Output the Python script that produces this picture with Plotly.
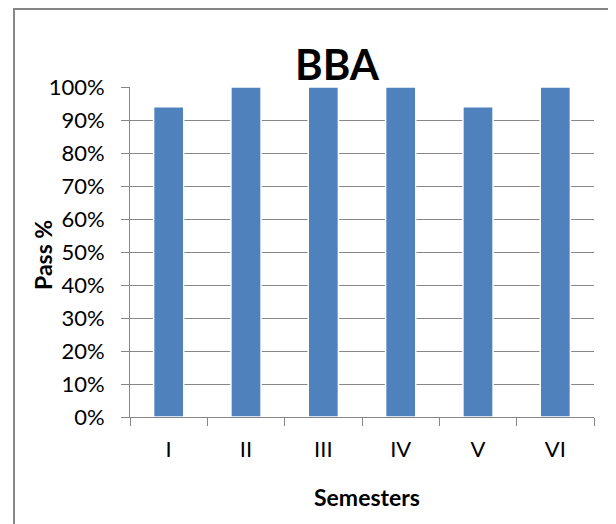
import plotly.graph_objects as go

semesters = ["I", "II", "III", "IV", "V", "VI"]
pass_pct = [0.94, 1.00, 1.00, 1.00, 0.94, 1.00]
y_ticks = [0, 0.1, 0.2, 0.3, 0.4, 0.5, 0.6, 0.7, 0.8, 0.9, 1.0]
y_tick_text = ["0%", "10%", "20%", "30%", "40%", "50%", "60%", "70%", "80%", "90%", "100%"]

# page body has an 8px margin, so figure is sized to fit the window
W, H = 608, 516
L, R, T, B = 122, 22, 79, 107
pw, ph = W - L - R, H - T - B
FONT = "Lato, Liberation Sans, sans-serif"
GRID = "#868686"

fig = go.Figure()
fig.add_trace(go.Bar(
    x=semesters, y=pass_pct,
    marker=dict(color="#4F81BD", line=dict(color="white", width=1.5)),
    width=0.39,
))

fig.update_layout(
    width=W, height=H,
    margin=dict(l=L, r=R, t=T, b=B, autoexpand=False),
    paper_bgcolor="white", plot_bgcolor="white",
    font=dict(family=FONT, color="black", size=22),
    showlegend=False,
    title=dict(text="<b>BBA</b>", x=329 / W, xanchor="center",
               y=1 - 57 / H, yanchor="middle", font=dict(size=42, color="black")),
    xaxis=dict(
        type="category", tickson="boundaries", ticks="outside", ticklen=8,
        tickcolor=GRID, tickwidth=1, showline=True, linecolor=GRID, linewidth=1,
        showgrid=False, tickfont=dict(size=22), ticklabelstandoff=13,
    ),
    yaxis=dict(
        range=[0, 1], tickvals=y_ticks, ticktext=y_tick_text,
        ticks="outside", ticklen=8, tickcolor=GRID,
        showline=True, linecolor=GRID, linewidth=1,
        showgrid=True, gridcolor=GRID, gridwidth=1,
        zeroline=False, tickfont=dict(size=22), ticklabelstandoff=12,
    ),
)

fig.add_annotation(text="<b>Semesters</b>", xref="paper", yref="paper",
                   x=(367 - 8 - L) / pw, y=-(497 - 8 - (H - B)) / ph,
                   xanchor="center", yanchor="middle", showarrow=False,
                   font=dict(size=23, family=FONT, color="black"))
fig.add_annotation(text="<b>Pass %</b>", xref="paper", yref="paper",
                   x=-(L - (43 - 8)) / pw, y=(H - B - (255 - 8)) / ph,
                   xanchor="center", yanchor="middle", showarrow=False, textangle=-90,
                   font=dict(size=23, family=FONT, color="black"))

fig.add_shape(type="rect", xref="paper", yref="paper",
              x0=(6 - L) / pw, x1=(601 - L) / pw,
              y0=(H - B - 540) / ph, y1=(H - B - 1) / ph,
              line=dict(color=GRID, width=2), layer="below")

fig.write_html("out.html")
